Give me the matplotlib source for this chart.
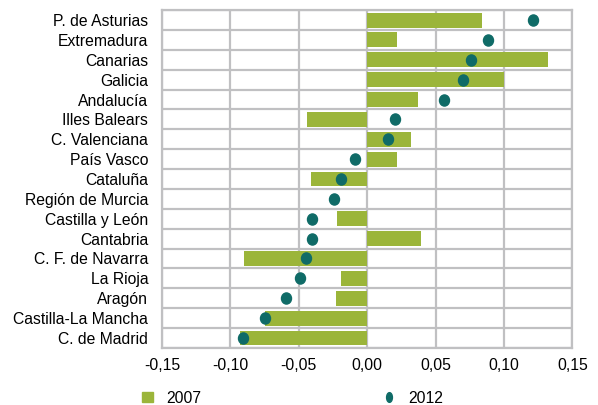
import matplotlib.pyplot as plt
import numpy as np
from matplotlib.lines import Line2D
from matplotlib.patches import Patch
from matplotlib.path import Path
from matplotlib.transforms import Affine2D

plt.rcParams['font.family'] = ['Liberation Sans', 'DejaVu Sans']

regiones = ["P. de Asturias", "Extremadura", "Canarias", "Galicia", "Andalucía",
            "Illes Balears", "C. Valenciana", "País Vasco", "Cataluña",
            "Región de Murcia", "Castilla y León", "Cantabria", "C. F. de Navarra",
            "La Rioja", "Aragón", "Castilla-La Mancha", "C. de Madrid"]
valores_2007 = [0.084, 0.022, 0.132, 0.100, 0.037, -0.044, 0.032, 0.022, -0.041,
                0.0, -0.022, 0.039, -0.090, -0.019, -0.023, -0.075, -0.093]
valores_2012 = [0.121, 0.088, 0.076, 0.070, 0.056, 0.020, 0.015, -0.009, -0.019,
                -0.024, -0.040, -0.040, -0.045, -0.049, -0.059, -0.075, -0.091]

verde = '#9bb53a'
azul = '#0f6b67'
gris = '#c0c0c2'

# elipses algo mas altas que anchas, como en el original
circulo = Path.unit_circle()
elipse = circulo.transformed(Affine2D().scale(0.9, 1.0))
elipse_ley = circulo.transformed(Affine2D().scale(0.6, 1.0))

fig = plt.figure(figsize=(5.98, 4.05), dpi=100)
ax = fig.add_axes([0.271, 0.141, 0.686, 0.834])

y = np.arange(len(regiones))
ax.barh(y, valores_2007, height=0.75, color=verde, zorder=2)
ax.plot(valores_2012, y, linestyle='none', marker=elipse, markersize=8,
        color=azul, zorder=3)

ax.set_xlim(-0.15, 0.15)
ax.set_ylim(len(regiones) - 0.5, -0.5)
ticks = np.arange(-0.15, 0.151, 0.05)
ax.set_xticks(ticks)
ax.set_xticklabels([f"{t:.2f}".replace('.', ',').replace('-0,00', '0,00') for t in ticks])
ax.set_yticks(y)
ax.set_yticklabels(regiones)
ax.set_yticks(np.arange(-0.5, len(regiones)), minor=True)
ax.grid(False)
ax.grid(axis='x', which='major', color=gris, linewidth=1.6, zorder=1)
ax.grid(axis='y', which='minor', color=gris, linewidth=1.6, zorder=1)
ax.tick_params(axis='both', which='both', length=0, labelsize=11.3, colors='black')
ax.tick_params(axis='x', pad=7)
ax.tick_params(axis='y', pad=10)
for s in ax.spines.values():
    s.set_color(gris)
    s.set_linewidth(1.6)

handles = [Patch(color=verde),
           Line2D([], [], linestyle='none', marker=elipse_ley, markersize=7, color=azul)]
fig.legend(handles, ['2007', '2012'], loc='center left', bbox_to_anchor=(0.225, 0.017),
           ncol=2, frameon=False, fontsize=11.3, handlelength=0.65, handleheight=0.65,
           columnspacing=11.6, handletextpad=0.9, borderpad=0)

fig.savefig('out.png', dpi=100)
